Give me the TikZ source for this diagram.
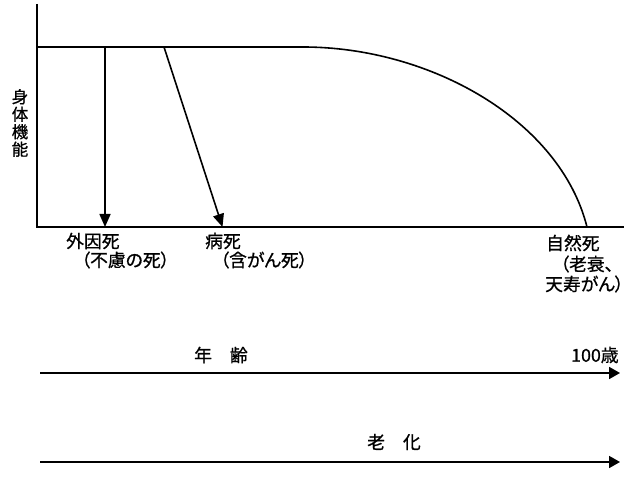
\documentclass[tikz,border=0pt]{standalone}
\usepackage{fontspec}
\setmainfont{Noto Sans CJK JP}[RawFeature={+palt;embolden=0.8}]
\usetikzlibrary{arrows.meta}
\tikzset{
  axisline/.style={line width=1.6pt},
  deatharrow/.style={line width=1.6pt,-{Triangle[length=13pt,width=11pt]}},
  agearrow/.style={line width=1.8pt,-{Triangle[length=11pt,width=12pt]}},
  lbl/.style={inner sep=0pt,anchor=west,font=\fontsize{17.8}{19}\selectfont},
}
\begin{document}
\begin{tikzpicture}[x=1pt,y=-1pt]
\useasboundingbox (0,0) rectangle (640,486);
% axes
\coordinate (top) at (37,4);
\coordinate (o) at (37,227);
\coordinate (xend) at (624,227);
\draw[axisline] (top) -- (o) -- (xend);
% function curve
\coordinate (p0) at (37,47);
\coordinate (p1) at (303,47);
\coordinate (p2) at (587,227);
\draw[axisline,line join=round] (p0) -- (p1) .. controls (430,47) and (560,120) .. (p2);
% death arrows
\coordinate (a1s) at (105,47);
\coordinate (a1e) at (105,227);
\coordinate (a2s) at (164,47);
\coordinate (a2e) at (222.5,227);
\draw[deatharrow] (a1s) -- (a1e);
\draw[deatharrow] (a2s) -- (a2e);
% y label
\node[inner sep=0pt,align=center,font=\fontsize{16.5}{17.5}\selectfont] (ylab) at (20,123) {身\\体\\機\\能};
% labels
\node[lbl] (l1a) at (66,241) {外因死};
\node[lbl] (l1b) at (81,260) {（不慮の死）};
\node[lbl] (l2a) at (205,241) {病死};
\node[lbl] (l2b) at (220,260) {（含がん死）};
\node[lbl] (l3a) at (546,243) {自然死};
\node[lbl] (l3b) at (560,264) {（老衰、};
\node[lbl] (l3c) at (545,284) {天寿がん）};
% age arrow
\node[lbl] (age) at (194,355) {年\hspace{18pt}齢};
\node[lbl] (hund) at (571,355) {100歳};
\coordinate (r1s) at (40,373);
\coordinate (r1e) at (620,373);
\draw[agearrow] (r1s) -- (r1e);
% aging arrow
\node[lbl] (aging) at (367,442) {老\hspace{18pt}化};
\coordinate (r2s) at (40,462);
\coordinate (r2e) at (620,462);
\draw[agearrow] (r2s) -- (r2e);
\end{tikzpicture}
\end{document}
